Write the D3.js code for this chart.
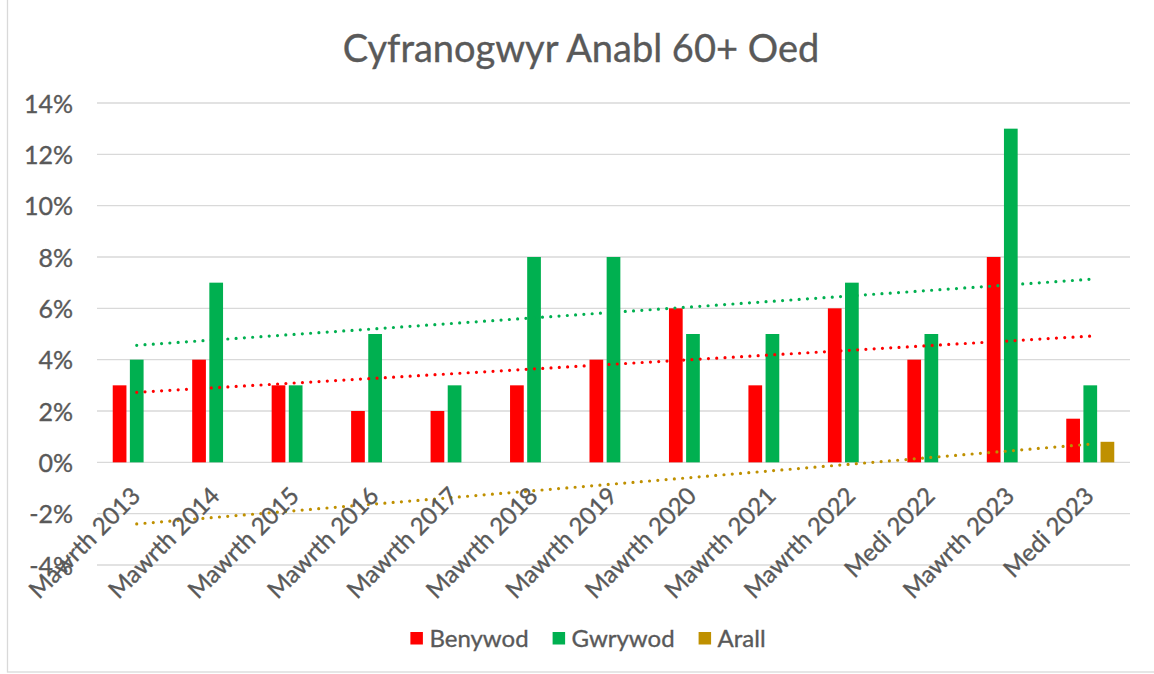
<!DOCTYPE html>
<html>
<head>
<meta charset="utf-8">
<script src="https://cdn.jsdelivr.net/npm/d3@7"></script>
<style>
  html, body { margin: 0; padding: 0; background: #fff; }
  svg { display: block; font-family: Lato, "Open Sans", sans-serif; }
  svg text { stroke: #595959; stroke-width: 0.35px; }
</style>
</head>
<body>
<svg id="chart" width="1154" height="674"></svg>
<script>
// ---- data ----
const categories = ["Mawrth 2013","Mawrth 2014","Mawrth 2015","Mawrth 2016","Mawrth 2017","Mawrth 2018","Mawrth 2019","Mawrth 2020","Mawrth 2021","Mawrth 2022","Medi 2022","Mawrth 2023","Medi 2023"];
const seriesNames = ["Benywod","Gwrywod","Arall"];
const benywod = [3,4,3,2,2,3,4,6,3,6,4,8,1.7];
const gwrywod = [4,7,3,5,3,8,8,5,5,7,5,13,3];
const arall   = [null,null,null,null,null,null,null,null,null,null,null,null,0.8];
const arallTrend = [-2.4, 0.71]; // trendline value at first and last category
const yTicks = [-4,-2,0,2,4,6,8,10,12,14];
const title = "Cyfranogwyr Anabl 60+ Oed";
const colors = ["#FF0000","#00B050","#BF9000"];

// ---- layout ----
const svg = d3.select("#chart");
const W = 1154, H = 674;
const plot = {left: 97, right: 1130, top: 103, bottom: 565};
const textColor = "#595959", gridColor = "#D9D9D9";
const fs = "25px";

svg.append("rect").attr("x",7.5).attr("y",-1).attr("width",W-6).attr("height",673)
  .attr("fill","#fff").attr("stroke",gridColor).attr("stroke-width",1.3);

const x = d3.scaleBand().domain(categories).range([plot.left, plot.right]).paddingInner(0).paddingOuter(0);
const groupW = 48;
const x1 = d3.scaleBand().domain(seriesNames).range([0, groupW]).paddingInner(0.2);
const y = d3.scaleLinear().domain([-4,14]).range([plot.bottom, plot.top]);

// gridlines
svg.append("g").selectAll("line").data(yTicks).join("line")
  .attr("x1", plot.left).attr("x2", plot.right)
  .attr("y1", d => y(d)).attr("y2", d => y(d))
  .attr("stroke", gridColor).attr("stroke-width", 1.3);

// y axis labels
const yAxis = d3.axisLeft(y).tickValues(yTicks).tickFormat(d => d + "%").tickSize(0).tickPadding(0);
const ya = svg.append("g").attr("transform", `translate(73,0)`).call(yAxis);
ya.select(".domain").remove();
ya.selectAll("text").attr("fill", textColor).attr("dy","0.36em")
  .style("font-size",fs).style("font-family","Lato");

// bars
const seriesData = [benywod, gwrywod, arall];
seriesData.forEach((vals, si) => {
  svg.append("g").selectAll("rect")
    .data(vals.map((v,i) => ({cat: categories[i], v})).filter(d => d.v != null))
    .join("rect")
    .attr("x", d => x(d.cat) + (x.bandwidth() - groupW)/2 + x1(seriesNames[si]))
    .attr("width", x1.bandwidth())
    .attr("y", d => y(Math.max(0, d.v)))
    .attr("height", d => Math.abs(y(d.v) - y(0)))
    .attr("fill", colors[si]);
});

// trendlines (linear least squares over category index)
function linreg(vals) {
  const pts = vals.map((v,i)=>[i,v]).filter(p => p[1] != null);
  const mx = d3.mean(pts, p=>p[0]), my = d3.mean(pts, p=>p[1]);
  const sxy = d3.sum(pts, p=>(p[0]-mx)*(p[1]-my)), sxx = d3.sum(pts, p=>(p[0]-mx)**2);
  const b = sxy/sxx, a = my - b*mx;
  return [a, a + b*(categories.length-1)];
}
const trends = [linreg(benywod), linreg(gwrywod), arallTrend];
const cx = c => x(c) + x.bandwidth()/2;
const line = d3.line().x(d => d[0]).y(d => y(d[1]));
trends.forEach((t, si) => {
  svg.append("path")
    .attr("d", line([[cx(categories[0]), t[0]], [cx(categories[categories.length-1]), t[1]]]))
    .attr("fill","none").attr("stroke", colors[si]).attr("stroke-width", 3.2)
    .attr("stroke-linecap","round").attr("stroke-dasharray","0 8.3");
});

// x labels (rotated)
const xl = svg.append("g");
categories.forEach(c => {
  const px = cx(c) + 5, py = y(0) + 35;
  xl.append("text").attr("transform", `translate(${px},${py}) rotate(-45)`)
    .attr("text-anchor","end").attr("fill", textColor)
    .style("font-size","24px").text(c);
});

// title
svg.append("text").attr("x", 581).attr("y", 62).attr("text-anchor","middle")
  .attr("fill", textColor).style("font-size","38px").text(title);

// legend
const lg = svg.append("g");
const items = seriesNames.map((n,i)=>({n, c: colors[i]}));
let lx = 0;
const legendY = 638;
items.forEach(it => {
  const g = lg.append("g");
  g.append("rect").attr("x",0).attr("y",-6).attr("width",12.5).attr("height",12.5).attr("fill",it.c);
  const t = g.append("text").attr("x",19).attr("y",9).attr("fill",textColor).style("font-size","24px").text(it.n);
  const w = 19 + t.node().getComputedTextLength();
  g.attr("transform", `translate(${lx},${legendY})`);
  lx += w + 24;
});
const totalW = lx - 24;
lg.attr("transform", `translate(${588 - totalW/2},0)`);
</script>
</body>
</html>
